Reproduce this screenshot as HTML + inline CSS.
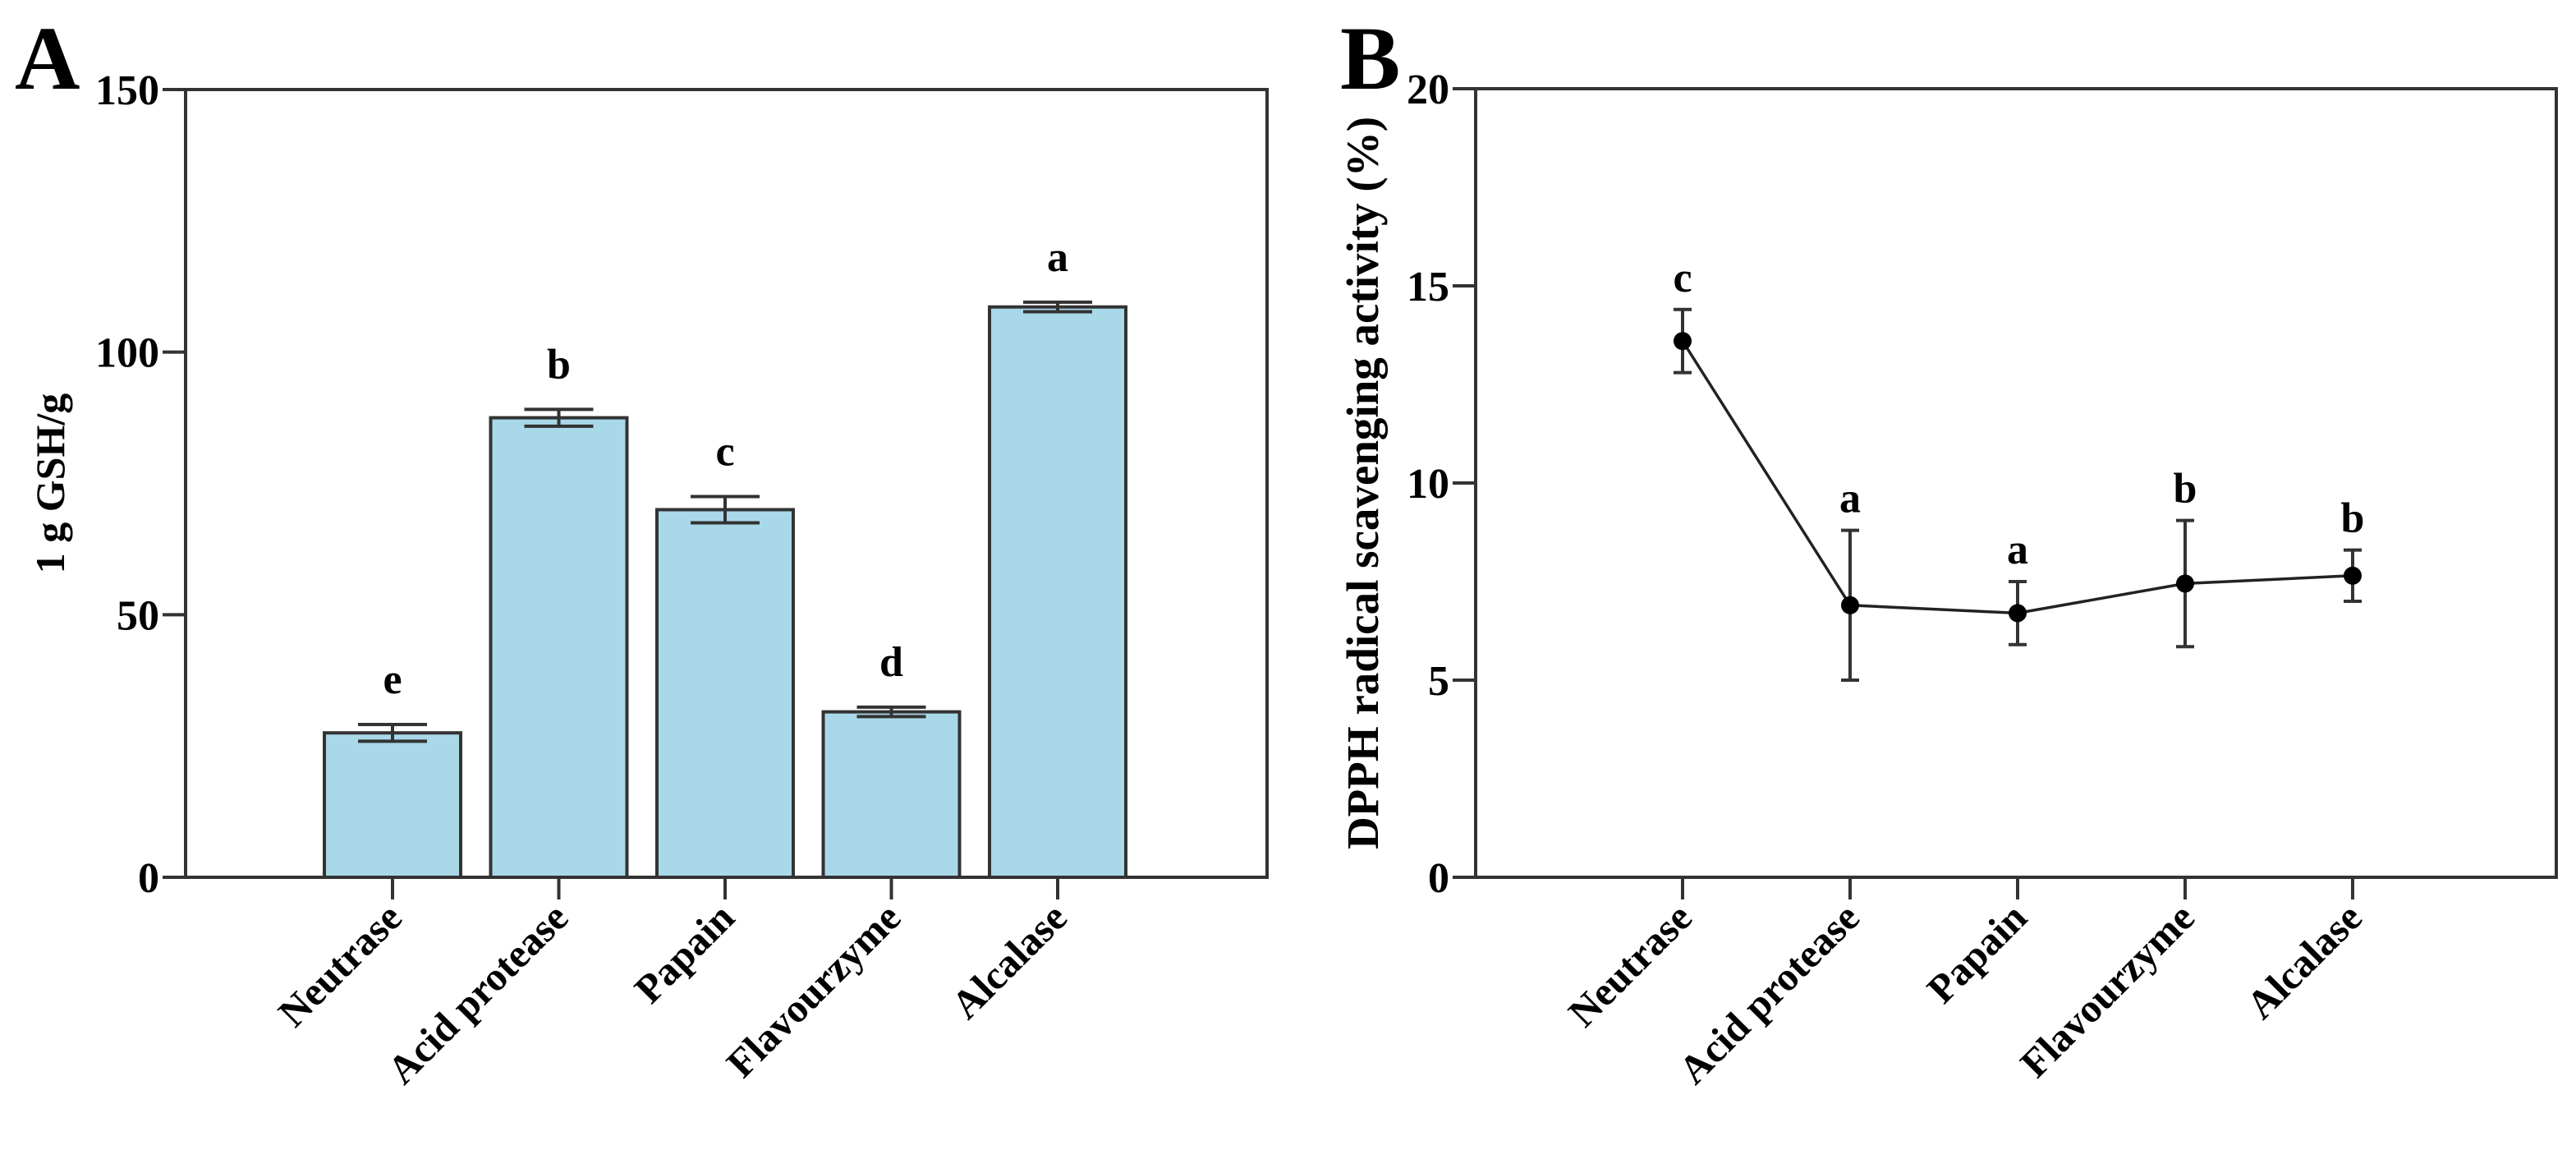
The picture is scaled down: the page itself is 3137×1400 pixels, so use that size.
<!DOCTYPE html>
<html><head><meta charset="utf-8"><style>
html,body{margin:0;padding:0;background:#fff;}
svg{display:block;font-family:"Liberation Serif",serif;font-weight:bold;}
</style></head><body>
<svg id="fig" width="3137" height="1400" viewBox="0 0 3137 1400" xmlns="http://www.w3.org/2000/svg">
<text x="18" y="108" font-size="110">A</text>
<text x="1632" y="108" font-size="110">B</text>
<g id="ga"></g>
<g id="gb"></g>
</svg>
<script>
const categories=["Neutrase","Acid protease","Papain","Flavourzyme","Alcalase"];
const gshValues=[27.5,87.5,70,31.5,108.6];
const gshErr=[1.6,1.6,2.5,0.9,0.9];
const gshLetters=["e","b","c","d","a"];
const gshTicks=[0,50,100,150];
const dpphValues=[13.6,6.9,6.7,7.45,7.65];
const dpphErr=[0.8,1.9,0.8,1.6,0.65];
const dpphLetters=["c","a","a","b","b"];
const dpphTicks=[0,5,10,15,20];

const NS="http://www.w3.org/2000/svg";
function mk(parent,tag,attrs,text){const e=document.createElementNS(NS,tag);for(const k in attrs)e.setAttribute(k,attrs[k]);if(text!==undefined)e.textContent=text;parent.appendChild(e);return e;}

function axes(g,L,R,T,B,ymax,ticks,xOf,title,titleX,titleSize,prefix){
  const yOf=v=>B-(v/ymax)*(B-T);
  let e=mk(g,'rect',{x:L,y:T,width:R-L,height:B-T,fill:'none',stroke:'#333','stroke-width':4});
  
  
  ticks.forEach(t=>{
    e=mk(g,'line',{x1:L-28,x2:L,y1:yOf(t),y2:yOf(t),stroke:'#333','stroke-width':4});
    
    
    e=mk(g,'text',{x:L-32,y:yOf(t)+18,'font-size':52,'text-anchor':'end'},String(t));
    
    
  });
  categories.forEach((c,i)=>{
    const x=xOf(i);
    e=mk(g,'line',{x1:x,x2:x,y1:B,y2:B+27,stroke:'#333','stroke-width':4});
    
    
    e=mk(g,'text',{x:0,y:0,'font-size':49,'text-anchor':'end',transform:`translate(${x+14},${B+52}) rotate(-45)`},c);
    
    
  });
  const cy=(T+B)/2;
  e=mk(g,'text',{x:0,y:0,'font-size':titleSize,'text-anchor':'middle',transform:`translate(${titleX},${cy}) rotate(-90)`},title);
  
  
  return yOf;
}

// Panel A
(function(){
  const g=document.getElementById('ga');
  const L=226,R=1543,T=109,B=1068;
  const xOf=i=>478+i*202.5;
  const yOf=axes(g,L,R,T,B,150,gshTicks,xOf,"1 g GSH/g",78,50,'a-');
  gshValues.forEach((v,i)=>{
    const x=xOf(i),bw=166;
    let e=mk(g,'rect',{x:x-bw/2,y:yOf(v),width:bw,height:B-yOf(v),fill:'#a9d8e9',stroke:'#333','stroke-width':4});
    
    
    const hi=yOf(v+gshErr[i]),lo=yOf(v-gshErr[i]);
    e=mk(g,'path',{d:`M${x},${hi}V${lo}M${x-42},${hi}H${x+42}M${x-42},${lo}H${x+42}`,stroke:'#333','stroke-width':4,fill:'none'});
    
    
    e=mk(g,'text',{x:x,y:hi-38,'font-size':52,'text-anchor':'middle'},gshLetters[i]);
    
    
  });
})();

// Panel B
(function(){
  const g=document.getElementById('gb');
  const L=1797,R=3113,T=108,B=1068;
  const xOf=i=>2049+i*204;
  const yOf=axes(g,L,R,T,B,20,dpphTicks,xOf,"DPPH radical scavenging activity (%)",1678,55,'b-');
  let d=dpphValues.map((v,i)=>(i?'L':'M')+xOf(i)+','+yOf(v)).join('');
  let e=mk(g,'path',{d:d,stroke:'#222','stroke-width':3.5,fill:'none'});
  
  
  dpphValues.forEach((v,i)=>{
    const x=xOf(i);
    const hi=yOf(v+dpphErr[i]),lo=yOf(v-dpphErr[i]);
    e=mk(g,'path',{d:`M${x},${hi}V${lo}M${x-11},${hi}H${x+11}M${x-11},${lo}H${x+11}`,stroke:'#333','stroke-width':4,fill:'none'});
    
    
    e=mk(g,'circle',{cx:x,cy:yOf(v),r:11,fill:'#000'});
    
    
    e=mk(g,'text',{x:x,y:hi-22,'font-size':52,'text-anchor':'middle'},dpphLetters[i]);
    
    
  });
})();
</script>
</body></html>
